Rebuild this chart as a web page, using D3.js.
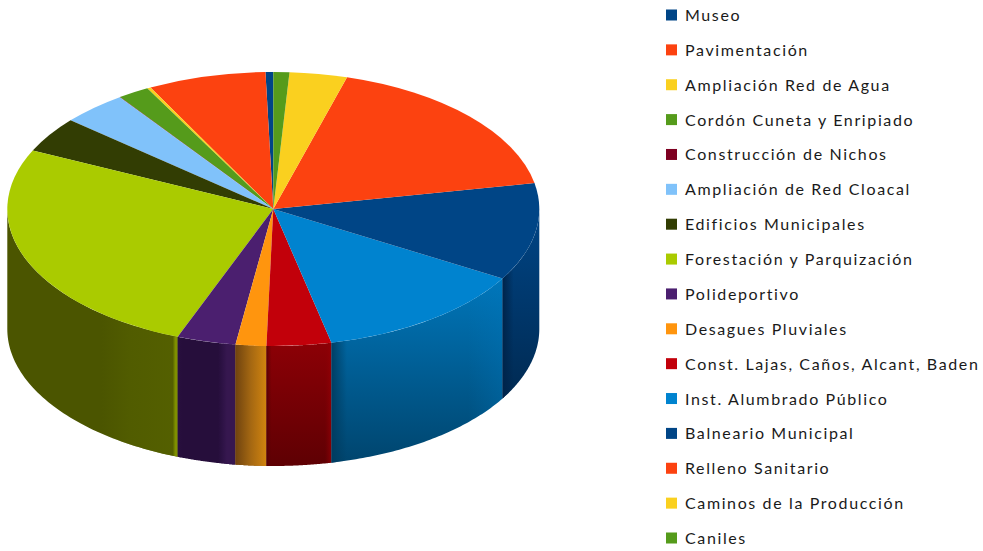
<!DOCTYPE html>
<html>
<head>
<meta charset="utf-8">
<script src="https://cdn.jsdelivr.net/npm/d3@7/dist/d3.min.js"></script>
<style>
html,body{margin:0;padding:0;background:#fff;overflow:hidden}
svg{display:block}
</style>
</head>
<body>
<svg id="c" width="983" height="551"></svg>
<script>
const categories = ["Museo","Pavimentación","Ampliación Red de Agua","Cordón Cuneta y Enripiado","Construcción de Nichos","Ampliación de Red Cloacal","Edificios Municipales","Forestación y Parquización","Polideportivo","Desagues Pluviales","Const. Lajas, Caños, Alcant, Baden","Inst. Alumbrado Público","Balneario Municipal","Relleno Sanitario","Caminos de la Producción","Caniles"];
const values = [0.47,7.17,0.22,1.92,0.02,4.0,4.19,26.17,3.58,1.86,3.92,13.03,11.5,17.5,3.5,0.97];
const palette = ["#004586","#FC4210","#FAD01F","#559B1B","#7E0021","#80C2FA","#323D03","#AACB00","#4B1F6F","#FF950E","#C2000A","#0083CF","#004586","#FC4210","#FAD01F","#559B1B"];

// wall shading: vertical colours, then horizontal overlay stops [offset, colour, opacity]
const wallShade = {
  7:{v:["#4B5500","#4B5500"],h:[[0,"#4B5500",0],[0.55,"#566200",0],[0.72,"#566200",0.55],[0.97,"#566200",0.8],[0.985,"#7f9000",1],[1,"#7f9000",1]]},
  8:{v:["#260E3B","#260E3B"],h:[[0,"#2c1144",0.6],[0.1,"#260E3B",0],[0.7,"#33154f",0],[0.85,"#36174f",1],[1,"#36174f",1]]},
  9:{v:["#8f560e","#8f560e"],h:[[0,"#6f430f",1],[0.5,"#a56812",1],[1,"#d1840f",1]]},
  10:{v:["#8c0006","#5e0003"],h:[[0,"#4d0003",0.8],[0.08,"#5e0003",0],[0.9,"#8c0006",0],[1,"#960006",0.7]]},
  11:{v:["#0076BA","#00456E"],h:[[0,"#003b5e",0.9],[0.09,"#003b5e",0],[0.8,"#0078BE",0.0],[1,"#0078BE",0.3]]},
  12:{v:["#004586","#002A52"],h:[[0,"#00244a",1],[0.3,"#00244a",0],[1,"#004586",0]]}
};

const cx = 273.3, cy = 209, rx = 266, ry = 137, depth = 120;
const xS = d3.scaleLinear().domain([-1,1]).range([cx-rx,cx+rx]);
const yS = d3.scaleLinear().domain([-1,1]).range([cy-ry,cy+ry]);

const svg = d3.select("#c");
const defs = svg.append("defs");
const pie = d3.pie().sort(null).startAngle(0).endAngle(-2*Math.PI);
const arcs = pie(values);

// Walls
const wallG = svg.append("g");
const line = d3.line();
arcs.forEach((d,i)=>{
  const s = wallShade[i];
  if(!s) return;
  let a0 = d.endAngle + 2*Math.PI, a1 = d.startAngle + 2*Math.PI; // a0 < a1 clockwise from top
  a0 = Math.max(a0, Math.PI/2); a1 = Math.min(a1, 1.5*Math.PI);
  if(a1 <= a0) return;
  const as = d3.range(0,61).map(k=>a0+(a1-a0)*k/60);
  const top = as.map(a=>[xS(Math.sin(a)), yS(-Math.cos(a))]);
  const bot = top.map(p=>[p[0],p[1]+depth]).reverse();
  const path = line(top.concat(bot))+"Z";
  const v = defs.append("linearGradient").attr("id","v"+i).attr("x1",0).attr("y1",0).attr("x2",0).attr("y2",1);
  v.append("stop").attr("offset",0).attr("stop-color",s.v[0]);
  v.append("stop").attr("offset",1).attr("stop-color",s.v[1]);
  const h = defs.append("linearGradient").attr("id","h"+i).attr("x1",0).attr("y1",0).attr("x2",1).attr("y2",0);
  s.h.forEach(st=>h.append("stop").attr("offset",st[0]).attr("stop-color",st[1]).attr("stop-opacity",st[2]));
  wallG.append("path").attr("d",path).attr("fill",`url(#v${i})`);
  wallG.append("path").attr("d",path).attr("fill",`url(#h${i})`);
});

// Top face
const arc = d3.arc().innerRadius(0).outerRadius(rx);
svg.append("g").attr("transform",`translate(${cx},${cy}) scale(1,${ry/rx})`)
  .selectAll("path").data(arcs).join("path")
  .attr("d",arc).attr("fill",(d,i)=>palette[i]);

// Legend
const legendY = d3.scalePoint().domain(categories).range([15,538]);
const lg = svg.append("g").selectAll("g").data(categories).join("g")
  .attr("transform",d=>`translate(666,${legendY(d)})`);
lg.append("rect").attr("x",0).attr("y",-5.5).attr("width",11).attr("height",11).attr("fill",(d,i)=>palette[i]);
lg.append("text").attr("x",19).attr("y",6)
  .attr("font-family","Lato, Carlito, sans-serif").attr("font-size",16).attr("letter-spacing",1.62)
  .attr("fill","#1a1a1a").text(d=>d);
</script>
</body>
</html>
